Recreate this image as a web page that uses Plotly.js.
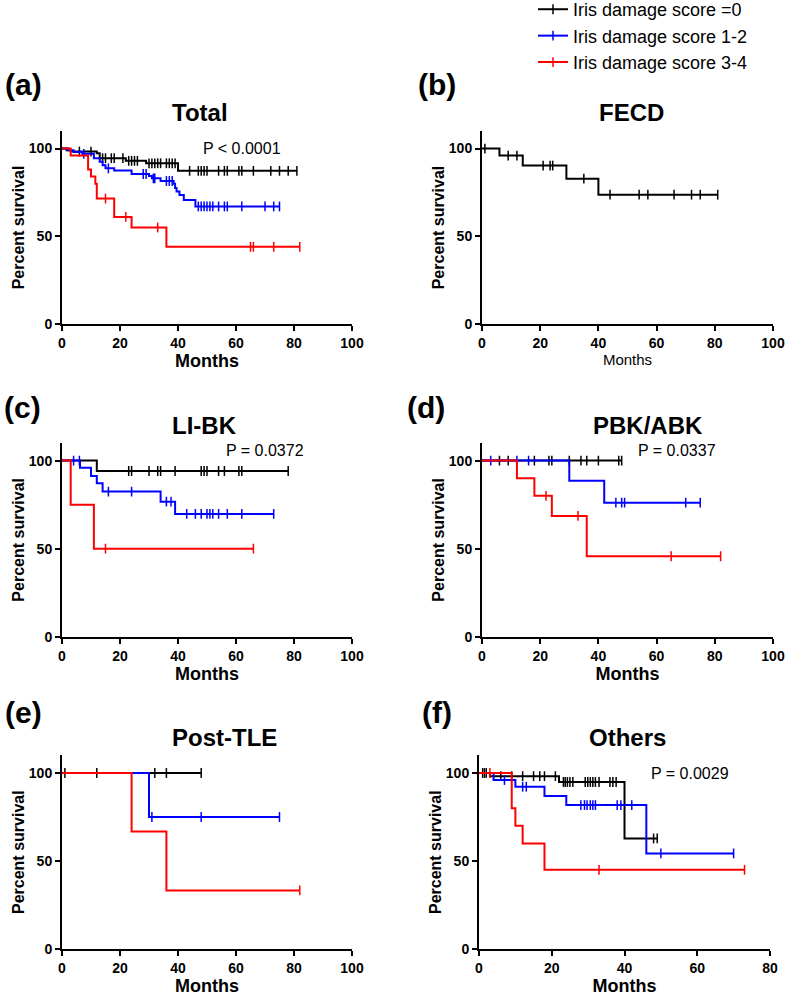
<!DOCTYPE html>
<html><head><meta charset="utf-8">
<script src="https://cdn.plot.ly/plotly-3.0.1.min.js"></script>
<style>html,body{margin:0;padding:0;background:#fff}#chart{width:787px;height:997px}</style>
</head><body><div id="chart"></div>
<script>
// ---------- series ----------
const seriesNames = ['Iris damage score =0', 'Iris damage score 1-2', 'Iris damage score 3-4'];
const seriesColors = ['#000000', '#0000ff', '#ff0000'];

// (a) Total
const totalS0Times = [1.6, 3, 12, 13, 22, 29, 40];
const totalS0Surv = [99, 98.3, 97.3, 94.5, 93, 91.6, 87.3];
const totalS0End = 81;
const totalS0Censor = [6, 10, 14, 15, 17, 18, 21, 23, 24, 25, 26, 30, 31, 32, 33, 34, 36, 37, 38, 39, 44, 47, 48, 49, 50, 54, 56, 57, 61, 62, 66, 72, 75, 78, 81];
const totalS1Times = [2, 4, 7, 11, 13, 14, 15, 18, 24, 30, 31, 34, 38.5, 39, 39.5, 40.5, 42, 46];
const totalS1Surv = [99, 98, 97, 94.5, 92.5, 90.5, 88.7, 87.5, 85.5, 84.3, 83, 81.5, 80, 77.5, 75.5, 73.5, 70.7, 67];
const totalS1End = 75;
const totalS1Censor = [7.5, 16, 28, 29, 31.5, 32, 36, 37, 38, 47, 48, 49, 50, 51, 52, 54, 56, 57, 62, 70, 73, 75];
const totalS2Times = [3, 9, 10, 11.5, 12, 18, 24, 36];
const totalS2Surv = [96, 88, 84, 80, 71.5, 61, 55, 44];
const totalS2End = 82;
const totalS2Censor = [15, 22, 33, 65, 66, 73, 82];

// (b) FECD
const fecdTimes = [6, 14, 29, 40];
const fecdSurv = [96, 90.3, 82.8, 73.7];
const fecdEnd = 81;
const fecdCensor = [1, 9, 12, 21, 23.4, 24.3, 35, 44, 54, 57, 66, 72, 75, 81];

// (c) LI-BK
const libkS0Times = [12];
const libkS0Surv = [94.1];
const libkS0End = 78;
const libkS0Censor = [23, 24, 30, 33, 34, 39, 48, 49, 50, 54, 56, 61, 62, 78];
const libkS1Times = [6.2, 10, 12, 14, 34, 39];
const libkS1Surv = [96, 91.3, 87.1, 82.4, 76.7, 69.7];
const libkS1End = 73;
const libkS1Censor = [4, 6, 16, 24, 36, 37.6, 43, 46, 48, 50, 51, 52, 54, 57, 62, 73];
const libkS2Times = [3, 11];
const libkS2Surv = [75, 50];
const libkS2End = 66;
const libkS2Censor = [15, 66];

// (d) PBK/ABK
const pbkS0Times = [];
const pbkS0Surv = [];
const pbkS0End = 48;
const pbkS0Censor = [6, 9, 18, 23, 24, 30, 34, 36, 40, 47, 48];
const pbkS1Times = [30, 42];
const pbkS1Surv = [88.6, 76.1];
const pbkS1End = 75;
const pbkS1Censor = [3, 12, 16, 46, 48, 49, 70, 75];
const pbkS2Times = [12, 18, 24, 36];
const pbkS2Surv = [90, 80, 68.6, 45.7];
const pbkS2End = 82;
const pbkS2Censor = [22, 33, 65, 82];

// (e) Post-TLE
const tleS0Times = [];
const tleS0Surv = [];
const tleS0End = 48;
const tleS0Censor = [1, 12, 32, 36, 48];
const tleS1Times = [30];
const tleS1Surv = [75];
const tleS1End = 75;
const tleS1Censor = [31, 48, 75];
const tleS2Times = [24, 36];
const tleS2Surv = [66.7, 33.3];
const tleS2End = 82;
const tleS2Censor = [82];

// (f) Others
const othS0Times = [3, 22, 40];
const othS0Surv = [98.2, 94.9, 62.8];
const othS0End = 49;
const othS0Censor = [1, 1.5, 2, 6, 9, 12, 15, 16.7, 18, 21, 23.2, 23.7, 24.3, 25, 25.8, 29.2, 29.9, 30.6, 31.3, 32, 33, 36, 36.8, 37.7, 48, 49];
const othS1Times = [4, 10, 18, 24, 46];
const othS1Surv = [96, 92.2, 86.9, 81.8, 54.3];
const othS1End = 70;
const othS1Censor = [7, 12, 13, 28, 29, 29.7, 30.6, 31.3, 32, 38, 39, 42, 50, 70];
const othS2Times = [9, 10, 12, 18];
const othS2Surv = [80, 70, 60, 45];
const othS2End = 73;
const othS2Censor = [3, 33, 73];

// panel texts
const panelLabels = ['(a)', '(b)', '(c)', '(d)', '(e)', '(f)'];
const panelTitles = ['Total', 'FECD', 'LI-BK', 'PBK/ABK', 'Post-TLE', 'Others'];
const pValues = ['P < 0.0001', '', 'P = 0.0372', 'P = 0.0337', '', 'P = 0.0029'];
const xTitle = 'Months';
const yTitle = 'Percent survival';

// ---------- build ----------
const FONT = 'Liberation Sans, Arial, Helvetica, sans-serif';
const W = 787, H = 997;

function survAt(times, surv, t) {
  let s = 100;
  for (let i = 0; i < times.length; i++) if (times[i] <= t) s = surv[i];
  return s;
}

const traces = [];
function addCurve(ax, idx, times, surv, end, censor) {
  const xs = [0].concat(times, [end]);
  const last = surv.length ? surv[surv.length - 1] : 100;
  const ys = [100].concat(surv, [last]);
  traces.push({
    type: 'scatter', mode: 'lines', x: xs, y: ys,
    xaxis: 'x' + ax, yaxis: 'y' + ax,
    line: {shape: 'hv', color: seriesColors[idx], width: 2},
    showlegend: false, hoverinfo: 'skip'
  });
  traces.push({
    type: 'scatter', mode: 'markers', x: censor,
    y: censor.map(t => survAt(times, surv, t)),
    xaxis: 'x' + ax, yaxis: 'y' + ax,
    marker: {symbol: 'line-ns-open', size: 7, color: seriesColors[idx], line: {width: 1.5}},
    showlegend: false, hoverinfo: 'skip'
  });
}

addCurve('', 0, totalS0Times, totalS0Surv, totalS0End, totalS0Censor);
addCurve('', 1, totalS1Times, totalS1Surv, totalS1End, totalS1Censor);
addCurve('', 2, totalS2Times, totalS2Surv, totalS2End, totalS2Censor);
addCurve('2', 0, fecdTimes, fecdSurv, fecdEnd, fecdCensor);
addCurve('3', 0, libkS0Times, libkS0Surv, libkS0End, libkS0Censor);
addCurve('3', 1, libkS1Times, libkS1Surv, libkS1End, libkS1Censor);
addCurve('3', 2, libkS2Times, libkS2Surv, libkS2End, libkS2Censor);
addCurve('4', 0, pbkS0Times, pbkS0Surv, pbkS0End, pbkS0Censor);
addCurve('4', 1, pbkS1Times, pbkS1Surv, pbkS1End, pbkS1Censor);
addCurve('4', 2, pbkS2Times, pbkS2Surv, pbkS2End, pbkS2Censor);
addCurve('5', 0, tleS0Times, tleS0Surv, tleS0End, tleS0Censor);
addCurve('5', 1, tleS1Times, tleS1Surv, tleS1End, tleS1Censor);
addCurve('5', 2, tleS2Times, tleS2Surv, tleS2End, tleS2Censor);
addCurve('6', 0, othS0Times, othS0Surv, othS0End, othS0Censor);
addCurve('6', 1, othS1Times, othS1Surv, othS1End, othS1Censor);
addCurve('6', 2, othS2Times, othS2Surv, othS2End, othS2Censor);

// legend keys
seriesNames.forEach((n, i) => {
  traces.push({
    type: 'scatter', mode: 'lines+markers', x: [null], y: [null], name: n,
    line: {color: seriesColors[i], width: 2},
    marker: {symbol: 'line-ns-open', size: 7, color: seriesColors[i], line: {width: 1.5}},
    showlegend: true, hoverinfo: 'skip'
  });
});

const px = v => v / W;
const py = v => 1 - v / H;
const xDomL = [px(62), px(352)], xDomR = [px(482), px(773)], xDomF = [px(479), px(770)];
const yDom1 = [py(324), py(131)], yDom2 = [py(636.7), py(443)], yDom3 = [py(949), py(755.4)];

function xa(domain, anchor, range, titleFont) {
  return {
    domain: domain, anchor: anchor, range: range, dtick: 20, tick0: 0,
    showline: true, linewidth: 2, linecolor: '#000', mirror: false,
    ticks: 'outside', ticklen: 5, tickwidth: 2, tickcolor: '#000',
    showgrid: false, zeroline: false, fixedrange: true,
    tickfont: {family: FONT, size: 14, color: '#000', weight: 'bold'},
    title: {text: xTitle, standoff: 5, font: titleFont}
  };
}
function ya(domain, anchor) {
  return {
    domain: domain, anchor: anchor, range: [0, 110], tickvals: [0, 50, 100],
    showline: true, linewidth: 2, linecolor: '#000',
    ticks: 'outside', ticklen: 5, tickwidth: 2, tickcolor: '#000',
    showgrid: false, zeroline: false, fixedrange: true,
    tickfont: {family: FONT, size: 14, color: '#000', weight: 'bold'},
    title: {text: yTitle, standoff: 0, font: {family: FONT, size: 16, color: '#000', weight: 'bold'}}
  };
}
const boldX = {family: FONT, size: 18, color: '#000', weight: 'bold'};
const plainX = {family: FONT, size: 15, color: '#000'};

const layout = {
  width: W, height: H, margin: {l: 0, r: 0, t: 0, b: 0, autoexpand: false},
  paper_bgcolor: '#fff', plot_bgcolor: '#fff',
  showlegend: true,
  legend: {x: px(533), y: 1.009, xanchor: 'left', yanchor: 'top', bgcolor: 'rgba(0,0,0,0)',
           font: {family: FONT, size: 18, color: '#000'}, itemwidth: 30, tracegroupgap: 0},
  xaxis: xa(xDomL, 'y', [0, 100], boldX), yaxis: ya(yDom1, 'x'),
  xaxis2: xa(xDomR, 'y2', [0, 100], plainX), yaxis2: ya(yDom1, 'x2'),
  xaxis3: xa(xDomL, 'y3', [0, 100], boldX), yaxis3: ya(yDom2, 'x3'),
  xaxis4: xa(xDomR, 'y4', [0, 100], boldX), yaxis4: ya(yDom2, 'x4'),
  xaxis5: xa(xDomL, 'y5', [0, 100], boldX), yaxis5: ya(yDom3, 'x5'),
  xaxis6: xa(xDomF, 'y6', [0, 80], boldX), yaxis6: ya(yDom3, 'x6'),
  annotations: []
};

const labelPos = [[23, 84], [437, 84], [22, 407], [426, 407], [23, 712], [437, 712]];
const titlePos = [[200, 112], [631, 112], [204, 425], [648, 425], [225, 737], [627, 737]];
const pPos = [[62, 100], null, [70, 106], [67, 106], null, [58, 100]];
const axSuffix = ['', '2', '3', '4', '5', '6'];
for (let i = 0; i < 6; i++) {
  layout.annotations.push({xref: 'paper', yref: 'paper', x: px(labelPos[i][0]), y: py(labelPos[i][1]),
    xanchor: 'center', yanchor: 'middle', showarrow: false, text: panelLabels[i],
    font: {family: FONT, size: 30, color: '#000', weight: 'bold'}});
  layout.annotations.push({xref: 'paper', yref: 'paper', x: px(titlePos[i][0]), y: py(titlePos[i][1]),
    xanchor: 'center', yanchor: 'middle', showarrow: false, text: panelTitles[i],
    font: {family: FONT, size: 24, color: '#000', weight: 'bold'}});
  if (pValues[i]) {
    layout.annotations.push({xref: 'x' + axSuffix[i], yref: 'y' + axSuffix[i], x: pPos[i][0], y: pPos[i][1],
      xanchor: 'center', yanchor: 'middle', showarrow: false, text: pValues[i],
      font: {family: FONT, size: 16, color: '#000'}});
  }
}

Plotly.newPlot('chart', traces, layout, {staticPlot: true, displayModeBar: false});
</script>
</body></html>
